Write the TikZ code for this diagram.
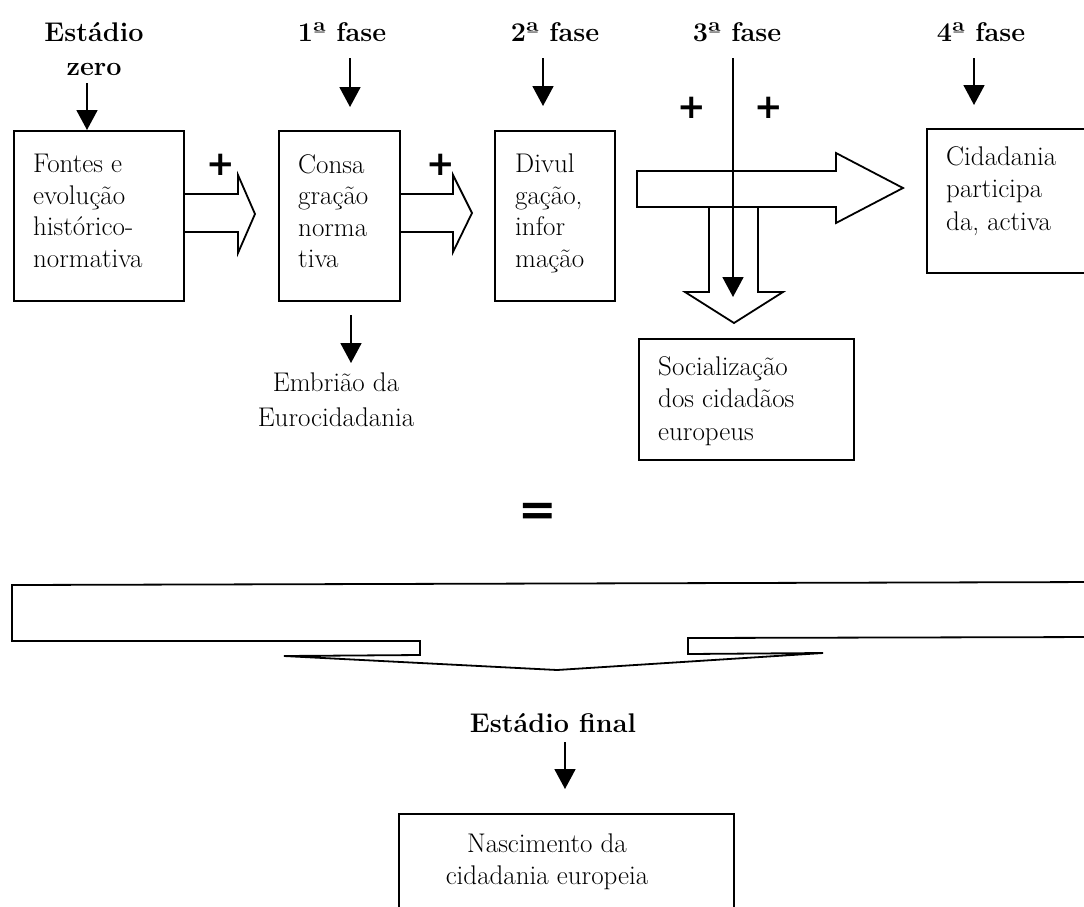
\documentclass[tikz,border=0pt]{standalone}
\usepackage{fontspec}
\newfontfamily\plusfont{DejaVu Sans}
\usetikzlibrary{arrows.meta}
\tikzset{
  box/.style={draw, line width=1.8pt, inner sep=0pt, anchor=north west},
  txt/.style={inner sep=0pt, anchor=north west, align=left, font=\fontsize{27}{31.5}\selectfont},
  ctxt/.style={inner sep=0pt, anchor=north, align=center, font=\fontsize{27}{33}\selectfont},
  ttl/.style={inner sep=0pt, anchor=base, font=\fontsize{27}{32}\selectfont\bfseries},
  arr/.style={line width=1.8pt, -{Triangle[width=21pt,length=20pt]}},
  hollow/.style={line width=1.8pt, line join=miter},
  plus/.style={inner sep=0pt, font=\plusfont\bfseries\fontsize{34}{34}\selectfont},
}
\begin{document}
\begin{tikzpicture}[x=1pt,y=-1pt]
\useasboundingbox (0,0) rectangle (1084,906);
\clip (0,0) rectangle (1084,906);

% titles
\node[ttl] (t0a) at (94,41) {Estádio};
\node[ttl] (t0b) at (94,75) {zero};
\node[ttl] (t1) at (342,41) {1ª fase};
\node[ttl] (t2) at (555,41) {2ª fase};
\node[ttl] (t3) at (737,41) {3ª fase};
\node[ttl] (t4) at (981,41) {4ª fase};

% boxes
\node[box, minimum width=170pt, minimum height=170pt] (b1) at (13,130) {};
\node[box, minimum width=121pt, minimum height=170pt] (b2) at (278,130) {};
\node[box, minimum width=120pt, minimum height=170pt] (b3) at (494,130) {};
\node[box, minimum width=180pt, minimum height=144pt] (b4) at (926,128) {};
\node[box, minimum width=215pt, minimum height=121pt] (b5) at (638,338) {};
\node[box, minimum width=335pt, minimum height=130pt] (b6) at (398,813) {};

% box texts
\node[txt] (x1) at (33,154) {Fontes e\\evolução\\histórico-\\normativa};
\node[txt] (x2) at (298,154) {Consa\\gração\\norma\\tiva};
\node[txt] (x3) at (515,154) {Divul\\gação,\\infor\\mação};
\node[txt, font=\fontsize{27}{32.5}\selectfont] (x4) at (946,146) {Cidadania\\participa\\da, activa};
\node[txt, font=\fontsize{27}{32.5}\selectfont] (x5) at (658,356) {Socialização\\dos cidadãos\\europeus};
\node[ctxt, font=\fontsize{27}{32}\selectfont] (x6) at (547,834) {Nascimento da\\cidadania europeia};
\node[ctxt, font=\fontsize{27}{35}\selectfont] (emb) at (336,373) {Embrião da\\Eurocidadania};
\node[ttl] (tf) at (553,732) {Estádio final};

% simple arrows
\coordinate (a0) at (87,83);
\draw[arr] (a0) -- (b1.north -| a0);
\coordinate (a1s) at (350,58); \coordinate (a1e) at (350,107);
\draw[arr] (a1s) -- (a1e);
\coordinate (a2s) at (543,58); \coordinate (a2e) at (543,106);
\draw[arr] (a2s) -- (a2e);
\coordinate (a4s) at (974,58); \coordinate (a4e) at (974,105);
\draw[arr] (a4s) -- (a4e);
\coordinate (aes) at (351,315); \coordinate (aee) at (351,363);
\draw[arr] (aes) -- (aee);
\coordinate (afs) at (565,742); \coordinate (afe) at (565,789);
\draw[arr] (afs) -- (afe);

% hollow block arrows
\draw[hollow] (183,194) -- (238,194) -- (238,175) -- (255,214) -- (238,253) -- (238,232) -- (183,232);
\draw[hollow] (399,194) -- (453,194) -- (453,175) -- (472,213) -- (453,252) -- (453,232) -- (399,232);
\draw[hollow] (637,171) -- (836,171) -- (836,153) -- (903,188) -- (836,223) -- (836,207) -- (637,207) -- cycle;
\draw[hollow] (709,207) -- (709,292) -- (685,292) -- (734,323) -- (783,292) -- (758,292) -- (758,207);

% 3a fase line through the arrows
\coordinate (a3s) at (733,58); \coordinate (a3e) at (733,297);
\draw[arr] (a3s) -- (a3e);

% plus signs
\node[plus] (p1) at (221,165) {+};
\node[plus] (p2) at (441,165) {+};
\node[plus] (p3) at (692,108) {+};
\node[plus] (p4) at (769,108) {+};

% equals
\node[inner sep=0pt, font=\plusfont\bfseries\fontsize{46}{46}\selectfont] (eq) at (538,514) {=};

% bracket arrow
\draw[hollow] (1100,582) -- (12,585) -- (12,641) -- (420,641) -- (420,655) -- (284,656)
  -- (557,670) -- (823,653) -- (688,654) -- (688,638) -- (1100,637);
\end{tikzpicture}
\end{document}
